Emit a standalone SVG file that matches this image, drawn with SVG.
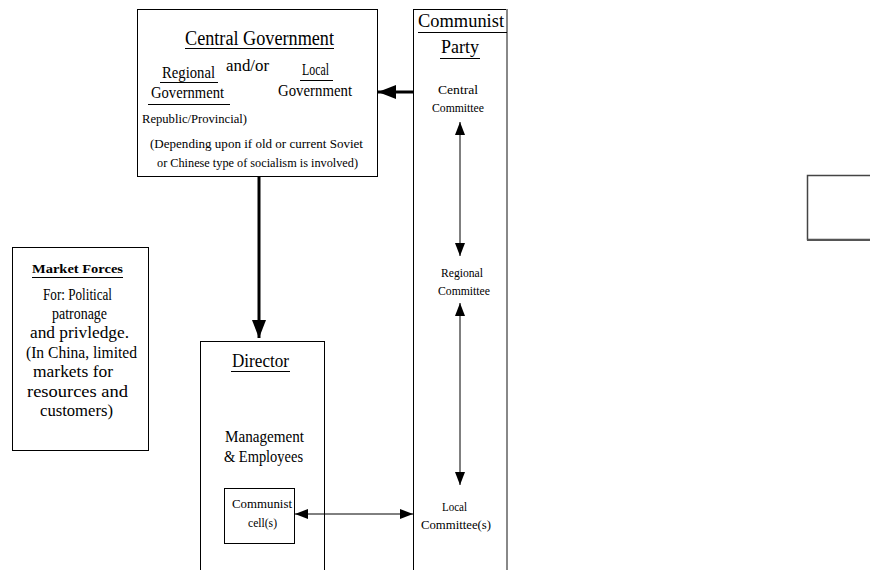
<svg xmlns="http://www.w3.org/2000/svg" width="870" height="570" viewBox="0 0 870 570">
  <defs>
    <style>
      .box { fill: #fff; stroke: #000; stroke-width: 1; }
      .t { font-family: "Liberation Serif", "DejaVu Serif", serif; fill: #000; }
      .u { stroke: #000; stroke-width: 1; }
      .thin { stroke: #000; stroke-width: 1; fill: none; }
      .thick { stroke: #000; stroke-width: 3; fill: none; }
    </style>
    <marker id="head" markerUnits="userSpaceOnUse" markerWidth="13" markerHeight="10" refX="13" refY="5" orient="auto-start-reverse">
      <path d="M0,0 L13,5 L0,10 z" fill="#000"/>
    </marker>
    <marker id="headThick" markerUnits="userSpaceOnUse" markerWidth="18" markerHeight="16" refX="18" refY="8" orient="auto">
      <path d="M0,1 L18,8 L0,15 z" fill="#000"/>
    </marker>
  </defs>

  <rect width="870" height="570" fill="#fff"/>

  <!-- Government node -->
  <g id="central-government">
    <rect class="box" x="137.5" y="9.5" width="240" height="167"/>
    <text class="t" x="185" y="45" font-size="20" textLength="149" lengthAdjust="spacingAndGlyphs">Central Government</text>
    <line class="u" x1="185" y1="48.5" x2="334" y2="48.5"/>
    <text class="t" x="162" y="78" font-size="17" textLength="53" lengthAdjust="spacingAndGlyphs">Regional</text>
    <line class="u" x1="160" y1="82.5" x2="218" y2="82.5"/>
    <text class="t" x="151" y="98" font-size="17" textLength="73" lengthAdjust="spacingAndGlyphs">Government</text>
    <line class="u" x1="148" y1="104.5" x2="230" y2="104.5"/>
    <text class="t" x="226" y="71" font-size="16" textLength="43" lengthAdjust="spacingAndGlyphs">and/or</text>
    <text class="t" x="302" y="75" font-size="17" textLength="27" lengthAdjust="spacingAndGlyphs">Local</text>
    <line class="u" x1="300" y1="80.5" x2="333" y2="80.5"/>
    <text class="t" x="278" y="96" font-size="17" textLength="74" lengthAdjust="spacingAndGlyphs">Government</text>
    <text class="t" x="142" y="123" font-size="11.5" textLength="105" lengthAdjust="spacingAndGlyphs">Republic/Provincial)</text>
    <text class="t" x="150" y="148" font-size="13" textLength="213" lengthAdjust="spacingAndGlyphs">(Depending  upon if  old or current Soviet</text>
    <text class="t" x="157" y="167" font-size="13" textLength="201" lengthAdjust="spacingAndGlyphs">or Chinese type of socialism is involved)</text>
  </g>

  <!-- Party column -->
  <g id="communist-party">
    <rect class="box" x="413.5" y="9.5" width="93" height="575"/>
    <line x1="507" y1="9" x2="507" y2="570" stroke="#888" stroke-width="2"/>
    <text class="t" x="418" y="27" font-size="18" textLength="86" lengthAdjust="spacingAndGlyphs">Communist</text>
    <line class="u" x1="418" y1="32.5" x2="507" y2="32.5"/>
    <text class="t" x="441" y="53" font-size="18" textLength="38" lengthAdjust="spacingAndGlyphs">Party</text>
    <line class="u" x1="440" y1="58.5" x2="480" y2="58.5"/>
  </g>
  <g id="central-committee">
    <text class="t" x="438" y="94" font-size="11.5" textLength="40" lengthAdjust="spacingAndGlyphs">Central</text>
    <text class="t" x="432" y="112" font-size="11.5" textLength="52" lengthAdjust="spacingAndGlyphs">Committee</text>
  </g>
  <g id="regional-committee">
    <text class="t" x="441" y="277" font-size="11.5" textLength="42" lengthAdjust="spacingAndGlyphs">Regional</text>
    <text class="t" x="438" y="295" font-size="11.5" textLength="52" lengthAdjust="spacingAndGlyphs">Committee</text>
  </g>
  <g id="local-committee">
    <text class="t" x="442" y="511" font-size="11.5" textLength="25" lengthAdjust="spacingAndGlyphs">Local</text>
    <text class="t" x="421" y="529" font-size="11.5" textLength="70" lengthAdjust="spacingAndGlyphs">Committee(s)</text>
  </g>

  <!-- Enterprise -->
  <g id="director">
    <rect class="box" x="200.5" y="341.5" width="124" height="240"/>
    <text class="t" x="232" y="367" font-size="19" textLength="57" lengthAdjust="spacingAndGlyphs">Director</text>
    <line class="u" x1="231" y1="371.5" x2="290" y2="371.5"/>
    <text class="t" x="225" y="442" font-size="17" textLength="79" lengthAdjust="spacingAndGlyphs">Management</text>
    <text class="t" x="224" y="462" font-size="17" textLength="79" lengthAdjust="spacingAndGlyphs">&amp; Employees</text>
  </g>
  <g id="communist-cell">
    <rect class="box" x="224.5" y="488.5" width="70" height="55"/>
    <text class="t" x="232" y="508" font-size="12" textLength="60" lengthAdjust="spacingAndGlyphs">Communist</text>
    <text class="t" x="248" y="527" font-size="12" textLength="29" lengthAdjust="spacingAndGlyphs">cell(s)</text>
  </g>

  <!-- Market forces note -->
  <g id="market-forces">
    <rect class="box" x="12.5" y="247.5" width="136" height="203"/>
    <text class="t" x="32" y="273" font-size="13.5" font-weight="bold" textLength="91" lengthAdjust="spacingAndGlyphs">Market Forces</text>
    <line class="u" x1="32" y1="277.5" x2="123" y2="277.5"/>
    <text class="t" x="43" y="300" font-size="16" textLength="69" lengthAdjust="spacingAndGlyphs">For: Political</text>
    <text class="t" x="52" y="319" font-size="16" textLength="55" lengthAdjust="spacingAndGlyphs">patronage</text>
    <text class="t" x="30" y="338" font-size="16" textLength="99" lengthAdjust="spacingAndGlyphs">and privledge.</text>
    <text class="t" x="26" y="358" font-size="16" textLength="111" lengthAdjust="spacingAndGlyphs">(In China, limited</text>
    <text class="t" x="33" y="377" font-size="16" textLength="80" lengthAdjust="spacingAndGlyphs">markets for</text>
    <text class="t" x="27" y="397" font-size="16" textLength="101" lengthAdjust="spacingAndGlyphs">resources and</text>
    <text class="t" x="40" y="416" font-size="16" textLength="73" lengthAdjust="spacingAndGlyphs">customers)</text>
  </g>

  <!-- Empty box at right edge -->
  <g id="empty-box">
    <rect x="807.5" y="175.5" width="80" height="64" fill="#fff" stroke="#444" stroke-width="1.5"/>
    <line x1="807" y1="240" x2="870" y2="240" stroke="#555" stroke-width="2"/>
  </g>

  <!-- Connectors -->
  <g id="connectors">
    <line class="thick" x1="414" y1="92" x2="378" y2="92" marker-end="url(#headThick)"/>
    <line class="thick" x1="259" y1="177" x2="259" y2="338" marker-end="url(#headThick)"/>
    <line class="thin" x1="460" y1="122" x2="460" y2="256" marker-start="url(#head)" marker-end="url(#head)"/>
    <line class="thin" x1="460" y1="303" x2="460" y2="485" marker-start="url(#head)" marker-end="url(#head)"/>
    <line class="thin" x1="295" y1="514" x2="413" y2="514" marker-start="url(#head)" marker-end="url(#head)"/>
  </g>
</svg>
